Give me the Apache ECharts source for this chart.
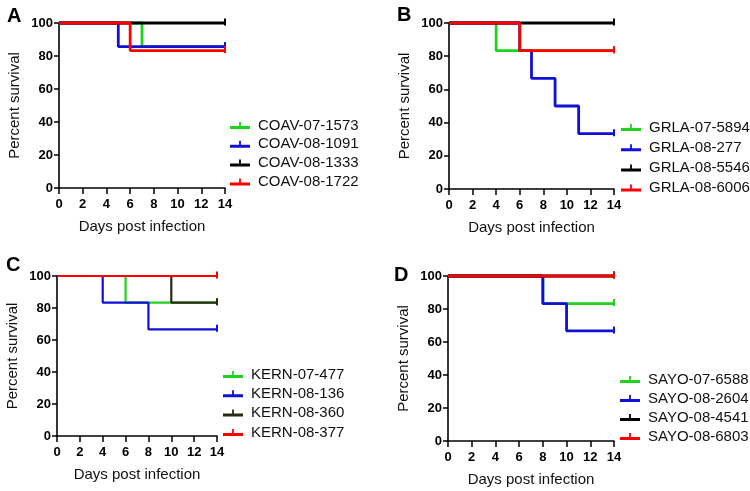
<!DOCTYPE html>
<html><head><meta charset="utf-8">
<script src="https://cdn.jsdelivr.net/npm/echarts@6/dist/echarts.min.js"></script>
<style>html,body{margin:0;padding:0;background:#fff}#c{width:750px;height:491px}</style>
</head><body><div id="c"></div>
<script>
// Panel A
const namesA = ['COAV-07-1573','COAV-08-1091','COAV-08-1333','COAV-08-1722'];
const daysA = [[0,7,14],[0,5,14],[0,14],[0,6,14]];
const survA = [[100,85.7,85.7],[100,85.7,85.7],[100,100],[100,83.3,83.3]];
// Panel B
const namesB = ['GRLA-07-5894','GRLA-08-277','GRLA-08-5546','GRLA-08-6006'];
const daysB = [[0,4,14],[0,6,7,9,11,14],[0,14],[0,6,14]];
const survB = [[100,83.3,83.3],[100,83.3,66.7,50,33.3,33.3],[100,100],[100,83.3,83.3]];
// Panel C
const namesC = ['KERN-07-477','KERN-08-136','KERN-08-360','KERN-08-377'];
const daysC = [[0,6,14],[0,4,8,14],[0,10,14],[0,14]];
const survC = [[100,83.3,83.3],[100,83.3,66.7,66.7],[100,83.3,83.3],[100,100]];
// Panel D
const namesD = ['SAYO-07-6588','SAYO-08-2604','SAYO-08-4541','SAYO-08-6803'];
const daysD = [[0,8,14],[0,8,10,14],[0,14],[0,14]];
const survD = [[100,83.3,83.3],[100,83.3,66.7,66.7],[100,100],[100,100]];
const panelLetters = ['A','B','C','D'];
const xTicks = [0,2,4,6,8,10,12,14];
const yTicks = [0,20,40,60,80,100];

const colorsStd = ['#1ed21e','#1010d8','#000000','#ff0000'];
const colorsC = ['#1ed21e','#1010d8','#2b2b14','#ff0000'];

const panels = [
  {names:namesA, days:daysA, surv:survA, colors:colorsStd, lw:2.8, grid:{left:59,top:23,width:166,height:165}, legend:{left:225,top:113,itemGap:3.8}, letter:{x:7,y:6}},
  {names:namesB, days:daysB, surv:survB, colors:colorsStd, lw:2.8, grid:{left:449,top:23,width:165,height:166}, legend:{left:616,top:115,itemGap:5.2}, letter:{x:397,y:5}},
  {names:namesC, days:daysC, surv:survC, colors:colorsC, lw:2.2, grid:{left:57,top:276,width:160,height:160}, legend:{left:218,top:362,itemGap:4.3}, letter:{x:6,y:255}},
  {names:namesD, days:daysD, surv:survD, colors:colorsStd, lw:2.8, grid:{left:448,top:276,width:166,height:165}, legend:{left:615,top:367,itemGap:4.0}, letter:{x:394,y:265}}
];

const FONT = 'Liberation Sans, Arial, sans-serif';
const legendIcon = 'path://M0,5H20V8H0Z M9.1,1H10.9V5H9.1Z';
const option = {animation:false, backgroundColor:'#fff', grid:[], xAxis:[], yAxis:[], series:[], legend:[], graphic:[]};

panels.forEach((p,i)=>{
  option.grid.push(Object.assign({containLabel:false}, p.grid));
  option.xAxis.push({type:'value', gridIndex:i, min:xTicks[0], max:xTicks[xTicks.length-1], interval:2,
    name:'Days post infection', nameLocation:'middle', nameGap:31,
    nameTextStyle:{fontFamily:FONT, fontSize:15, color:'#111'},
    axisLine:{onZero:false, lineStyle:{color:'#000', width:1.6}},
    axisTick:{show:true, length:6, lineStyle:{color:'#000', width:1.5}},
    axisLabel:{fontFamily:FONT, fontSize:13, fontWeight:'bold', color:'#000', margin:10},
    splitLine:{show:false}});
  option.yAxis.push({type:'value', gridIndex:i, min:yTicks[0], max:yTicks[yTicks.length-1], interval:20,
    name:'Percent survival', nameLocation:'middle', nameGap:37,
    nameTextStyle:{fontFamily:FONT, fontSize:15, color:'#111'},
    axisLine:{show:true, onZero:false, lineStyle:{color:'#000', width:1.6}},
    axisTick:{show:true, length:5, lineStyle:{color:'#000', width:1.5}},
    axisLabel:{fontFamily:FONT, fontSize:13, fontWeight:'bold', color:'#000', margin:6},
    splitLine:{show:false}});
  p.names.forEach((n,k)=>{
    const d = p.days[k].map((t,j)=>{
      const v = [t, p.surv[k][j]];
      return j===p.days[k].length-1 ? {value:v, symbol:'rect', symbolSize:[2,7], symbolOffset:[0,-1]} : {value:v, symbol:'none'};
    });
    option.series.push({type:'line', name:n, xAxisIndex:i, yAxisIndex:i, step:'end', data:d,
      symbol:'none', showSymbol:true, clip:false,
      lineStyle:{color:p.colors[k], width:p.lw}, itemStyle:{color:p.colors[k]}, color:p.colors[k]});
  });
  option.legend.push({data:p.names.map((n,k)=>({name:n, icon:legendIcon, itemStyle:{color:p.colors[k]}})),
    orient:'vertical', left:p.legend.left, top:p.legend.top, itemGap:p.legend.itemGap,
    itemWidth:20, itemHeight:8, selectedMode:false,
    textStyle:{fontFamily:FONT, fontSize:15, color:'#111', padding:[0,0,0,3]}});
  option.graphic.push({type:'text', left:p.letter.x, top:p.letter.y,
    style:{text:panelLetters[i], font:'bold 20px '+FONT, fill:'#000'}});
});

const chart = echarts.init(document.getElementById('c'), null, {renderer:'canvas'});
chart.setOption(option);
</script></body></html>
